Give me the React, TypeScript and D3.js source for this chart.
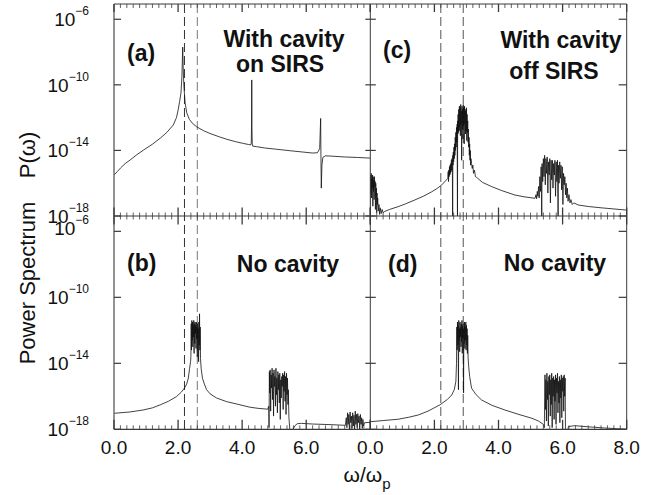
import React from 'react';
import * as d3 from 'd3';

// ω/ωp , log10 P(ω)
const panelA: [number, number][] = [
  [0, -15.5], [0.1, -15.3], [0.2, -15.08], [0.35, -14.8], [0.5, -14.59], [0.7, -14.28], [0.92, -13.98],
  [1.2, -13.62], [1.44, -13.26], [1.65, -12.9], [1.85, -12.45], [1.95, -12.0], [2.0, -11.55], [2.05, -11.0],
  [2.09, -10.5], [2.12, -9.5], [2.135, -8.4], [2.145, -7.7], [2.155, -8.6], [2.17, -9.6], [2.19, -10.3],
  [2.22, -11.1], [2.27, -11.7], [2.35, -12.1], [2.45, -12.35], [2.58, -12.56], [2.8, -12.8], [3.0, -12.97],
  [3.3, -13.18], [3.52, -13.32], [3.8, -13.47], [4.05, -13.58], [4.2, -13.64], [4.27, -13.66], [4.285, -13.55],
  [4.295, -12.3], [4.3, -9.7], [4.305, -12.5], [4.315, -13.6], [4.33, -13.74], [4.45, -13.77], [4.7, -13.85],
  [5.08, -13.93], [5.5, -14.02], [5.9, -14.1], [6.2, -14.16], [6.35, -14.14], [6.42, -13.9], [6.45, -12.05],
  [6.46, -14.5], [6.47, -16.3], [6.49, -14.9], [6.52, -14.42], [6.6, -14.33], [6.8, -14.35], [7.2, -14.4],
  [7.6, -14.43], [8.0, -14.47],
];

const panelB: [number, number][] = [
  [0, -17.03], [0.5, -16.95], [0.91, -16.83], [1.2, -16.7], [1.44, -16.52], [1.7, -16.3], [1.95, -16.02],
  [2.1, -15.75], [2.2, -15.5], [2.27, -15.25], [2.32, -14.9], [2.36, -14.3], [2.39, -13.9],
  [2.40, -13.6], [2.41, -11.6], [2.42, -13.2], [2.43, -11.4], [2.44, -12.6], [2.45, -11.5], [2.46, -13.0],
  [2.47, -11.7], [2.48, -12.4], [2.49, -11.4], [2.50, -13.4], [2.51, -11.6], [2.52, -12.8], [2.53, -11.5],
  [2.54, -12.2], [2.55, -11.7], [2.56, -13.1], [2.57, -11.5], [2.58, -12.5], [2.59, -11.8], [2.60, -13.6],
  [2.61, -11.6], [2.62, -12.7], [2.63, -11.9], [2.64, -13.9], [2.65, -11.5], [2.66, -12.9], [2.67, -11.0],
  [2.68, -13.2], [2.69, -11.8], [2.70, -13.7], [2.72, -14.3], [2.76, -14.9], [2.82, -15.25], [2.89, -15.6],
  [3.0, -15.85], [3.2, -16.1], [3.51, -16.32], [3.9, -16.5], [4.24, -16.66], [4.5, -16.73], [4.8, -16.78],
  [4.83, -16.6], [4.84, -17.9], [4.85, -14.5], [4.86, -15.8], [4.875, -14.4], [4.89, -16.9], [4.905, -14.7],
  [4.92, -15.5], [4.935, -14.3], [4.95, -16.2], [4.965, -14.6], [4.98, -17.2], [4.995, -14.4], [5.01, -15.4],
  [5.025, -14.8], [5.04, -16.6], [5.055, -14.3], [5.07, -15.9], [5.085, -14.9], [5.10, -17.0], [5.115, -14.5],
  [5.13, -15.6], [5.145, -14.7], [5.16, -16.4], [5.175, -14.6], [5.19, -17.4], [5.205, -15.0], [5.22, -16.1],
  [5.235, -14.8], [5.25, -15.4], [5.265, -14.6], [5.28, -16.8], [5.295, -14.7], [5.31, -15.7], [5.325, -14.5],
  [5.34, -16.3], [5.355, -14.8], [5.37, -17.1], [5.385, -14.6], [5.40, -15.9], [5.415, -14.9], [5.43, -16.5],
  [5.44, -15.6], [5.46, -17.3], [5.50, -18.3], [5.58, -18.3], [5.6, -17.95], [5.65, -17.78], [5.72, -17.66],
  [5.85, -17.64], [6.2, -17.68], [6.8, -17.72], [7.22, -17.76],
  [7.25, -17.3], [7.27, -17.9], [7.29, -17.0], [7.31, -17.7], [7.33, -17.1], [7.35, -18.1], [7.37, -16.95],
  [7.39, -17.6], [7.41, -17.2], [7.43, -17.95], [7.45, -17.0], [7.47, -17.8], [7.49, -17.15], [7.51, -18.1],
  [7.53, -16.9], [7.55, -17.7], [7.57, -17.1], [7.59, -17.9], [7.61, -17.05], [7.63, -17.6], [7.65, -17.2],
  [7.67, -18.0], [7.69, -17.1], [7.71, -17.7], [7.73, -17.3], [7.75, -17.95], [7.77, -17.4], [7.79, -17.8],
  [7.82, -17.6], [8.0, -17.58],
];

const panelC: [number, number][] = [
  [0.0, -17.9], [0.01, -15.5], [0.02, -16.6], [0.03, -15.4], [0.04, -16.9], [0.05, -15.7], [0.06, -16.3],
  [0.07, -15.5], [0.08, -17.4], [0.09, -15.6], [0.10, -16.5], [0.11, -15.8], [0.12, -17.0], [0.13, -15.6],
  [0.14, -16.2], [0.15, -15.9], [0.16, -17.6], [0.17, -16.0], [0.18, -16.8], [0.19, -16.3], [0.20, -17.8],
  [0.21, -16.6], [0.22, -17.3], [0.23, -16.9], [0.25, -17.7], [0.27, -17.3], [0.29, -17.9], [0.31, -17.5],
  [0.34, -17.85], [0.37, -17.6], [0.40, -17.8], [0.45, -17.72], [0.6, -17.6], [0.87, -17.43], [1.1, -17.26],
  [1.39, -17.02], [1.65, -16.8], [1.92, -16.52], [2.1, -16.3], [2.23, -16.1], [2.35, -15.85],
  [2.42, -15.7], [2.43, -15.3], [2.44, -15.9], [2.45, -15.2], [2.46, -15.6], [2.47, -15.0], [2.48, -15.5],
  [2.49, -14.9], [2.50, -15.4], [2.51, -14.8], [2.52, -15.3], [2.53, -14.6], [2.54, -15.2], [2.55, -14.5],
  [2.56, -15.0], [2.57, -18.2], [2.575, -14.3], [2.58, -14.9], [2.59, -14.1], [2.60, -14.7], [2.61, -13.8],
  [2.62, -14.5], [2.63, -13.6], [2.64, -14.3], [2.65, -13.2], [2.66, -14.0], [2.67, -12.9], [2.68, -13.8],
  [2.69, -12.6], [2.70, -13.5], [2.71, -12.4], [2.72, -18.2], [2.725, -12.2], [2.73, -13.0], [2.74, -11.8],
  [2.75, -12.9], [2.76, -11.5], [2.77, -12.6], [2.78, -11.3], [2.79, -12.8], [2.80, -11.4], [2.81, -13.1],
  [2.82, -11.2], [2.83, -12.4], [2.84, -11.6], [2.85, -14.6], [2.86, -11.3], [2.87, -12.7], [2.88, -11.5],
  [2.89, -13.3], [2.90, -11.2], [2.91, -12.5], [2.92, -11.4], [2.93, -13.6], [2.94, -11.3], [2.95, -12.4],
  [2.96, -11.6], [2.97, -13.0], [2.98, -11.5], [2.99, -12.8], [3.00, -11.4], [3.01, -13.4], [3.02, -11.8],
  [3.03, -12.9], [3.04, -12.2], [3.05, -13.5], [3.06, -12.7], [3.07, -13.8], [3.08, -13.2], [3.09, -14.3],
  [3.10, -13.6], [3.11, -14.6], [3.12, -14.0], [3.13, -14.9], [3.14, -14.5], [3.16, -14.8], [3.18, -15.1],
  [3.2, -14.9], [3.22, -15.4], [3.25, -15.2], [3.28, -15.6], [3.32, -15.65], [3.5, -15.95], [3.79, -16.21],
  [4.1, -16.45], [4.51, -16.72], [4.8, -16.83], [5.14, -16.92],
  [5.17, -16.7], [5.19, -16.95], [5.21, -16.5], [5.23, -16.8], [5.25, -16.2], [5.27, -16.9], [5.29, -15.6],
  [5.31, -16.5], [5.33, -15.0], [5.35, -18.2], [5.36, -14.8], [5.38, -15.9], [5.40, -14.5], [5.42, -15.6],
  [5.44, -14.3], [5.46, -16.1], [5.48, -14.5], [5.50, -15.4], [5.52, -14.4], [5.54, -16.6], [5.56, -14.7],
  [5.58, -15.5], [5.60, -14.5], [5.62, -17.2], [5.64, -14.6], [5.66, -15.8], [5.68, -14.6], [5.70, -16.3],
  [5.72, -14.8], [5.74, -15.5], [5.76, -14.6], [5.78, -16.8], [5.80, -14.7], [5.82, -15.9], [5.84, -14.6],
  [5.86, -18.2], [5.87, -14.9], [5.89, -16.0], [5.91, -14.7], [5.93, -15.7], [5.95, -14.9], [5.97, -16.4],
  [5.99, -15.0], [6.01, -17.3], [6.03, -15.4], [6.05, -16.1], [6.07, -15.6], [6.09, -16.7], [6.11, -16.0],
  [6.13, -16.9], [6.15, -16.3], [6.17, -17.1], [6.20, -16.7], [6.23, -17.2], [6.26, -17.0], [6.30, -17.3],
  [6.35, -17.2], [6.49, -17.33], [6.8, -17.42], [7.2, -17.5], [7.6, -17.57], [8.0, -17.64],
];

const panelD: [number, number][] = [
  [0, -17.54], [0.4, -17.47], [0.87, -17.39], [1.2, -17.27], [1.5, -17.13], [1.8, -16.9], [2.17, -16.52],
  [2.4, -16.2], [2.54, -15.92], [2.62, -15.6], [2.67, -15.1], [2.69, -14.0],
  [2.70, -11.8], [2.71, -13.2], [2.72, -11.5], [2.73, -12.9], [2.74, -11.7], [2.75, -15.6], [2.76, -11.4],
  [2.77, -12.6], [2.78, -11.9], [2.79, -13.3], [2.80, -11.5], [2.81, -12.4], [2.82, -11.8], [2.83, -13.0],
  [2.84, -11.6], [2.85, -12.7], [2.86, -11.4], [2.87, -13.4], [2.88, -11.7], [2.89, -12.5], [2.90, -11.9],
  [2.91, -15.8], [2.92, -11.6], [2.93, -12.8], [2.94, -11.5], [2.95, -13.1], [2.96, -11.8], [2.97, -12.6],
  [2.98, -11.5], [2.99, -13.2], [3.00, -11.7], [3.01, -12.9], [3.02, -11.9], [3.03, -13.4], [3.04, -12.3],
  [3.05, -13.6], [3.07, -14.2], [3.1, -14.8], [3.16, -15.51], [3.3, -15.9], [3.47, -16.22], [3.8, -16.55],
  [4.2, -16.83], [4.6, -17.08], [5.04, -17.33], [5.25, -17.5], [5.40, -17.7], [5.43, -17.9],
  [5.45, -14.7], [5.465, -16.8], [5.48, -15.0], [5.495, -17.5], [5.51, -14.6], [5.525, -16.2], [5.54, -15.1],
  [5.555, -17.8], [5.57, -14.8], [5.585, -15.9], [5.60, -14.7], [5.615, -17.2], [5.63, -15.0], [5.645, -16.5],
  [5.66, -14.6], [5.675, -17.9], [5.69, -14.9], [5.705, -16.0], [5.72, -14.8], [5.735, -17.4], [5.75, -15.0],
  [5.765, -16.3], [5.78, -14.7], [5.795, -17.7], [5.81, -14.9], [5.825, -15.8], [5.84, -14.6], [5.855, -17.0],
  [5.87, -15.1], [5.885, -16.4], [5.90, -14.8], [5.915, -17.6], [5.93, -15.0], [5.945, -16.1], [5.96, -14.7],
  [5.975, -17.3], [5.99, -14.9], [6.005, -15.7], [6.02, -14.8], [6.035, -16.9], [6.05, -14.7], [6.065, -16.0],
  [6.08, -14.9], [6.09, -18.3], [6.15, -18.3], [6.18, -17.84], [6.37, -17.78], [6.8, -17.85], [7.3, -17.92],
  [7.84, -17.98], [8.0, -18.0],
];

const yTickExps = [-6, -10, -14, -18];
const xTickLabelsLeft = ['0.0', '2.0', '4.0', '6.0'];
const xTickLabelsRight = ['0.0', '2.0', '4.0', '6.0', '8.0'];
const dashLeft = [2.2, 2.6];
const dashRight = [2.2, 2.9];
const panelTags = ['(a)', '(b)', '(c)', '(d)'];

const FONT = '"Liberation Sans", Arial, Helvetica, sans-serif';

export default function App() {
  const X0 = 114, X1 = 370.3, X2 = 626.7;
  const Y0 = 4, Y1 = 216, Y2 = 429.3;
  const topExp = -5.07;
  const xL = d3.scaleLinear().domain([0, 8]).range([X0, X1]);
  const xR = d3.scaleLinear().domain([0, 8]).range([X1, X2]);
  const yT = d3.scaleLog().domain([1e-18, Math.pow(10, topExp)]).range([Y1, Y0]);
  const yB = d3.scaleLog().domain([1e-18, Math.pow(10, topExp)]).range([Y2, Y1]);

  const mk = (x: any, y: any) =>
    d3.line<[number, number]>().x(d => x(d[0])).y(d => y(Math.pow(10, d[1])));

  const panels = [
    { id: 'a', data: panelA, x: xL, y: yT, cx: X0, cy: Y0, w: X1 - X0, h: Y1 - Y0 },
    { id: 'b', data: panelB, x: xL, y: yB, cx: X0, cy: Y1, w: X1 - X0, h: Y2 - Y1 },
    { id: 'c', data: panelC, x: xR, y: yT, cx: X1, cy: Y0, w: X2 - X1, h: Y1 - Y0 },
    { id: 'd', data: panelD, x: xR, y: yB, cx: X1, cy: Y1, w: X2 - X1, h: Y2 - Y1 },
  ];

  const minor = d3.range(0, 8.0001, 0.2);
  const isMajor = (v: number) => Math.abs(v / 2 - Math.round(v / 2)) < 1e-6;
  const frame = '#3a3a3a';

  const xTicks: JSX.Element[] = [];
  [xL, xR].forEach((xs, si) => {
    minor.forEach((v, i) => {
      const px = xs(v);
      const maj = isMajor(v);
      xTicks.push(<line key={`t${si}-${i}`} x1={px} x2={px} y1={Y0} y2={Y0 + (maj ? 8 : 4)} stroke={frame} strokeWidth={maj ? 1.3 : 0.8} />);
      xTicks.push(<line key={`m${si}-${i}`} x1={px} x2={px} y1={Y1 - (maj ? 8.5 : 3.5)} y2={Y1 + (maj ? 8.5 : 3.5)} stroke={frame} strokeWidth={maj ? 1.3 : 0.8} />);
      xTicks.push(<line key={`b${si}-${i}`} x1={px} x2={px} y1={Y2} y2={Y2 - (maj ? 9.5 : 4)} stroke={frame} strokeWidth={maj ? 1.3 : 0.8} />);
    });
  });

  const yTicks: JSX.Element[] = [];
  [yT, yB].forEach((ys, si) => {
    yTickExps.forEach((e, i) => {
      const py = ys(Math.pow(10, e));
      yTicks.push(<line key={`l${si}-${i}`} x1={X0} x2={X0 + 7} y1={py} y2={py} stroke={frame} strokeWidth={1.2} />);
      yTicks.push(<line key={`c${si}-${i}`} x1={X1 - 5} x2={X1 + 5.5} y1={py} y2={py} stroke={frame} strokeWidth={1.2} />);
      yTicks.push(<line key={`r${si}-${i}`} x1={X2 - 8} x2={X2} y1={py} y2={py} stroke={frame} strokeWidth={1.2} />);
    });
  });

  const yLabels: JSX.Element[] = [];
  [yT, yB].forEach((ys, si) => {
    yTickExps.forEach((e, i) => {
      const py = ys(Math.pow(10, e)) + (si === 1 && e === -6 ? -3.5 : 0);
      yLabels.push(
        <text key={`yl${si}-${i}`} x={89} y={py + 7} textAnchor="end" fontSize={19} fontFamily={FONT} fill="#111">
          10<tspan dy={-11} fontSize={12}>{`\u2212${-e}`}</tspan>
        </text>
      );
    });
  });

  const xLabels: JSX.Element[] = [];
  xTickLabelsLeft.forEach((t, i) => {
    xLabels.push(<text key={`xl${i}`} x={xL(+t)} y={453.5} textAnchor="middle" fontSize={19} fontFamily={FONT} fill="#111">{t}</text>);
  });
  xTickLabelsRight.forEach((t, i) => {
    xLabels.push(<text key={`xr${i}`} x={xR(+t)} y={453.5} textAnchor="middle" fontSize={19} fontFamily={FONT} fill="#111">{t}</text>);
  });

  const dashes: JSX.Element[] = [];
  dashLeft.forEach((v, i) => {
    dashes.push(<line key={`dl${i}`} x1={xL(v)} x2={xL(v)} y1={Y0} y2={Y2} stroke={i === 0 ? '#333' : '#777'} strokeWidth={1} strokeDasharray="9,4" />);
  });
  dashRight.forEach((v, i) => {
    dashes.push(<line key={`dr${i}`} x1={xR(v)} x2={xR(v)} y1={Y0} y2={Y2} stroke="#555" strokeWidth={1} strokeDasharray="9,4" />);
  });

  const tagPos = [
    { x: 127, y: 61 }, { x: 127, y: 271 }, { x: 383, y: 58 }, { x: 388, y: 272 },
  ];

  return (
    <svg width={665} height={495} style={{ position: 'absolute', left: 0, top: 0, background: '#fff' }}>
      <defs>
        {panels.map(p => (
          <clipPath id={`clip-${p.id}`} key={p.id}>
            <rect x={p.cx} y={p.cy} width={p.w} height={p.h} />
          </clipPath>
        ))}
      </defs>
      <rect x={0} y={0} width={665} height={495} fill="#fff" />
      {dashes}
      {panels.map(p => (
        <path key={`p-${p.id}`} d={mk(p.x, p.y)(p.data) || ''} fill="none" stroke="#111" strokeWidth={0.8}
          strokeLinejoin="round" clipPath={`url(#clip-${p.id})`} />
      ))}
      {/* frame */}
      <line x1={X0} x2={X2} y1={Y0} y2={Y0} stroke={frame} strokeWidth={1} />
      <line x1={X0} x2={X2} y1={Y1} y2={Y1} stroke={frame} strokeWidth={1} />
      <line x1={X0} x2={X2} y1={Y2} y2={Y2} stroke={frame} strokeWidth={1.2} />
      <line x1={X0} x2={X0} y1={Y0} y2={Y2} stroke="#666" strokeWidth={1.4} />
      <line x1={X1} x2={X1} y1={Y0} y2={Y2} stroke={frame} strokeWidth={1} />
      <line x1={X2} x2={X2} y1={Y0} y2={Y2} stroke={frame} strokeWidth={1} />
      {xTicks}
      {yTicks}
      {yLabels}
      {xLabels}
      {/* panel annotations */}
      {panelTags.map((t, i) => (
        <text key={t} x={tagPos[i].x} y={tagPos[i].y} fontSize={23} fontWeight="bold" fontFamily={FONT} fill="#111">{t}</text>
      ))}
      <text x={284} y={46.5} textAnchor="middle" fontSize={23} fontWeight="bold" fontFamily={FONT} fill="#111">With cavity</text>
      <text x={280} y={72} textAnchor="middle" fontSize={23} fontWeight="bold" fontFamily={FONT} fill="#111">on SIRS</text>
      <text x={561} y={48} textAnchor="middle" fontSize={23} fontWeight="bold" fontFamily={FONT} fill="#111">With cavity</text>
      <text x={554} y={79} textAnchor="middle" fontSize={23} fontWeight="bold" fontFamily={FONT} fill="#111">off SIRS</text>
      <text x={288} y={272} textAnchor="middle" fontSize={23} fontWeight="bold" fontFamily={FONT} fill="#111">No cavity</text>
      <text x={555} y={271} textAnchor="middle" fontSize={23} fontWeight="bold" fontFamily={FONT} fill="#111">No cavity</text>
      {/* axis titles */}
      <text x={367} y={482} textAnchor="middle" fontSize={21} fontFamily={FONT} fill="#111">
        ω/ω<tspan dy={7} fontSize={15}>p</tspan>
      </text>
      <text transform="translate(35,283) rotate(-90)" textAnchor="middle" fontSize={22} fontFamily={FONT} fill="#111">Power Spectrum</text>
      <text transform="translate(35,155) rotate(-90)" textAnchor="middle" fontSize={22} fontFamily={FONT} fill="#111">P(ω)</text>
    </svg>
  );
}
